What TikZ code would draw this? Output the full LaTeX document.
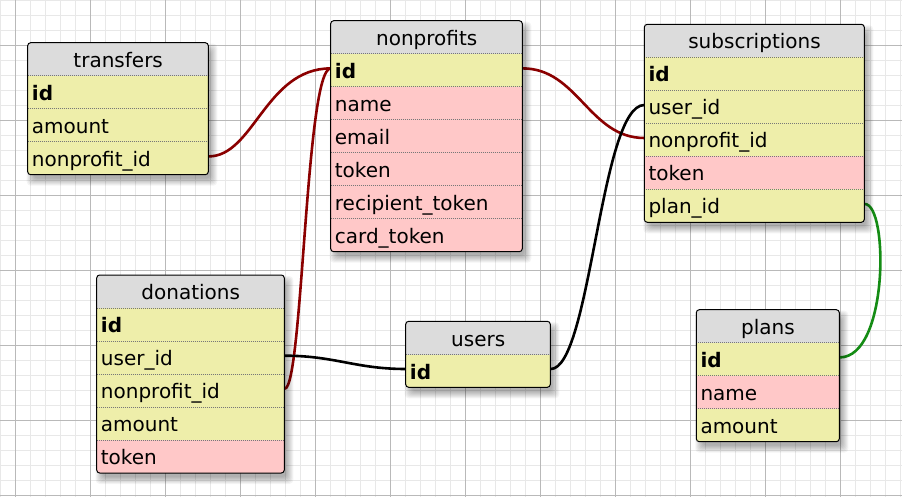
\documentclass[tikz,border=0pt]{standalone}
\usepackage{fontspec}
\newfontfamily\tabfont{DejaVu Sans}
\usetikzlibrary{calc}
\definecolor{hdrgrey}{RGB}{220,220,220}
\definecolor{keyyel}{RGB}{238,238,170}
\definecolor{colpink}{RGB}{255,200,200}
\definecolor{finegrid}{RGB}{232,232,232}
\definecolor{majorgrid}{RGB}{185,185,185}
\definecolor{fkred}{RGB}{139,0,0}
\definecolor{fkgreen}{RGB}{20,140,20}
\definecolor{sepgrey}{RGB}{120,120,120}
\pgfdeclarelayer{gridlayer}
\pgfdeclarelayer{connlayer}
\pgfsetlayers{gridlayer,connlayer,main}
\tikzset{
  tabtext/.style={font=\tabfont\fontsize{20}{24}\selectfont, inner sep=0pt, text=black},
  hdrbox/.style={draw=none, fill=hdrgrey, minimum height=33pt, inner sep=0pt, anchor=north west},
  rowbox/.style={draw=none, minimum height=33pt, inner sep=0pt, anchor=north west},
  sepline/.style={draw=sepgrey, line width=0.6pt, dash pattern=on 1pt off 1pt},
  tabborder/.style={draw=black, line width=1pt, rounded corners=3pt},
  fkline/.style={line width=2.6pt},
  shadowlayer/.style={fill=black, opacity=0.045, rounded corners=4pt}
}
% #1 name, #2 x, #3 y, #4 width, #5 title, #6 number of rows, #7 rows label/colour/fontcmd
\newcommand{\dbtab}[7]{%
  \pgfmathsetmacro{\tabH}{33*(#6+1)}%
  \foreach \k in {0,...,7}{%
    \fill[shadowlayer] ({#2+4-\k+2},{#3+6-\k+2}) rectangle ({#2+#4+4+\k-2},{#3+\tabH+6+\k-2});
  }
  \begin{scope}
    \clip[rounded corners=3pt] (#2,#3) rectangle ++(#4,\tabH);
    \node[hdrbox, minimum width=#4pt] (#1) at (#2,#3) {};
    \foreach \lbl/\col/\fnt [count=\i] in {#7}{%
      \node[rowbox, fill=\col, minimum width=#4pt] (#1-\i) at (#2,{#3+33*\i}) {};
      \node[tabtext, font={\tabfont\fontsize{20}{24}\selectfont\fnt}, anchor=base west] at ([xshift=4pt,yshift=-8pt]#1-\i.west) {\lbl};
      \draw[sepline] (#1-\i.north west) -- (#1-\i.north east);
    }
  \end{scope}
  \node[tabtext, anchor=base] (#1-title) at ([yshift=-8pt]#1.center) {#5};
  \draw[tabborder] (#2,#3) rectangle ++(#4,\tabH);
}
\begin{document}
\begin{tikzpicture}[x=1pt,y=-1pt]
\useasboundingbox (0,0) rectangle (902,497);
\begin{pgfonlayer}{gridlayer}
  \fill[white] (0,0) rectangle (902,497);
  \foreach \gx in {0.7,15.7,...,901}{\draw[finegrid, line width=1pt] (\gx,0) -- (\gx,497);}
  \foreach \gy in {0.7,15.7,...,497}{\draw[finegrid, line width=1pt] (0,\gy) -- (902,\gy);}
  \foreach \gx in {15.7,90.7,...,901}{\draw[majorgrid, line width=1pt] (\gx,0) -- (\gx,497);}
  \foreach \gy in {45.7,120.7,...,497}{\draw[majorgrid, line width=1pt] (0,\gy) -- (902,\gy);}
\end{pgfonlayer}

\dbtab{tr}{27.7}{42.7}{180.6}{transfers}{3}{id/keyyel/\bfseries, amount/keyyel/\mdseries, nonprofit\_id/keyyel/\mdseries}
\dbtab{np}{330.7}{20.7}{191.6}{nonprofits}{6}{id/keyyel/\bfseries, name/colpink/\mdseries, email/colpink/\mdseries, token/colpink/\mdseries, recipient\_token/colpink/\mdseries, card\_token/colpink/\mdseries}
\dbtab{sb}{644.3}{24.3}{220}{subscriptions}{5}{id/keyyel/\bfseries, user\_id/keyyel/\mdseries, nonprofit\_id/keyyel/\mdseries, token/colpink/\mdseries, plan\_id/keyyel/\mdseries}
\dbtab{dn}{96.7}{275}{187.6}{donations}{5}{id/keyyel/\bfseries, user\_id/keyyel/\mdseries, nonprofit\_id/keyyel/\mdseries, amount/keyyel/\mdseries, token/colpink/\mdseries}
\dbtab{us}{405.7}{321.3}{144.6}{users}{1}{id/keyyel/\bfseries}
\dbtab{pl}{696.3}{309.7}{143}{plans}{3}{id/keyyel/\bfseries, name/colpink/\mdseries, amount/keyyel/\mdseries}

\begin{pgfonlayer}{connlayer}
  \draw[fkline, fkred] ([yshift=2pt]tr-3.east) .. controls +(45,0) and +(-65,0) .. ([yshift=2pt]np-1.west);
  \draw[fkline, fkred] ([yshift=2pt]dn-3.east) .. controls +(18,0) and +(-25,0) .. ([yshift=2pt]np-1.west);
  \draw[fkline, fkred] ([yshift=2pt]np-1.east) .. controls +(55,0) and +(-55,0) .. ([yshift=2pt]sb-3.west);
  \draw[fkline, black] ([yshift=2pt]dn-2.east) .. controls +(50,0) and +(-50,0) .. ([yshift=2pt]us-1.west);
  \draw[fkline, black] ([yshift=2pt]us-1.east) .. controls +(40,0) and +(-44,0) .. ([yshift=2pt]sb-2.west);
  \draw[fkline, fkgreen] ([yshift=2pt]sb-5.east) .. controls +(24,0) and +(49,0) .. ([yshift=2pt]pl-1.east);
\end{pgfonlayer}
\end{tikzpicture}
\end{document}
